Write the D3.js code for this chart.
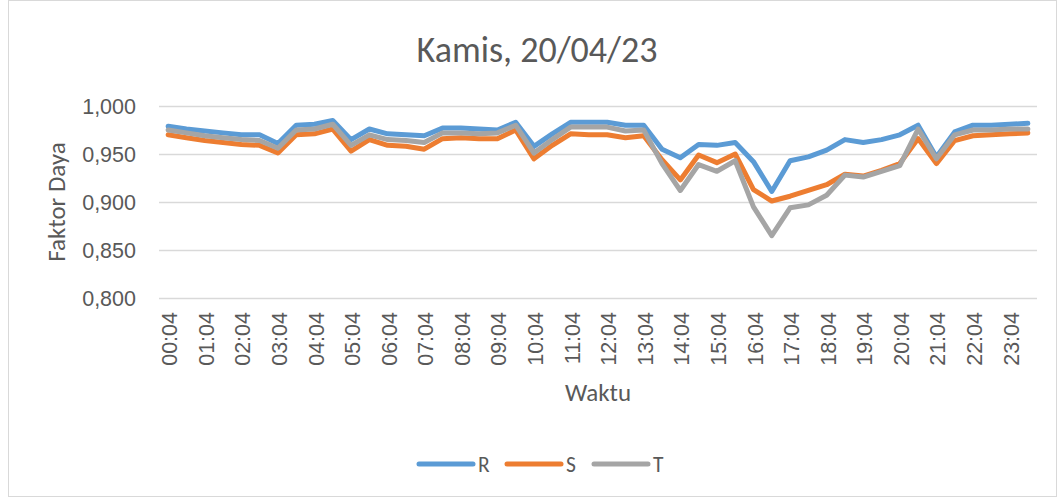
<!DOCTYPE html>
<html>
<head>
<meta charset="utf-8">
<script src="https://cdn.jsdelivr.net/npm/d3@7"></script>
<style>
  html, body { margin: 0; padding: 0; background: #fff; }
  svg { display: block; font-family: Carlito, Calibri, "Open Sans", sans-serif; }
</style>
</head>
<body>
<svg id="chart" width="1059" height="498"></svg>
<script>
// Half-hourly readings of power factor per phase
const times = [
  "00:04","00:34","01:04","01:34","02:04","02:34","03:04","03:34",
  "04:04","04:34","05:04","05:34","06:04","06:34","07:04","07:34",
  "08:04","08:34","09:04","09:34","10:04","10:34","11:04","11:34",
  "12:04","12:34","13:04","13:34","14:04","14:34","15:04","15:34",
  "16:04","16:34","17:04","17:34","18:04","18:34","19:04","19:34",
  "20:04","20:34","21:04","21:34","22:04","22:34","23:04","23:34"
];

const phaseR = [
  0.979, 0.976, 0.974, 0.972, 0.970, 0.970, 0.961, 0.980,
  0.981, 0.985, 0.965, 0.976, 0.971, 0.970, 0.969, 0.977,
  0.977, 0.976, 0.975, 0.983, 0.958, 0.971, 0.983, 0.983,
  0.983, 0.980, 0.980, 0.955, 0.946, 0.960, 0.959, 0.962,
  0.942, 0.911, 0.943, 0.947, 0.954, 0.965, 0.962, 0.965,
  0.970, 0.980, 0.947, 0.973, 0.980, 0.980, 0.981, 0.982
];

const phaseS = [
  0.970, 0.967, 0.964, 0.962, 0.960, 0.959, 0.951, 0.970,
  0.971, 0.976, 0.953, 0.965, 0.959, 0.958, 0.955, 0.966,
  0.967, 0.966, 0.966, 0.975, 0.945, 0.959, 0.971, 0.970,
  0.970, 0.967, 0.969, 0.944, 0.923, 0.949, 0.941, 0.950,
  0.913, 0.901, 0.906, 0.912, 0.918, 0.929, 0.927, 0.933,
  0.940, 0.966, 0.940, 0.964, 0.969, 0.970, 0.971, 0.972
];

const phaseT = [
  0.975, 0.972, 0.969, 0.967, 0.965, 0.964, 0.956, 0.975,
  0.976, 0.981, 0.959, 0.970, 0.965, 0.964, 0.962, 0.972,
  0.972, 0.971, 0.972, 0.980, 0.951, 0.965, 0.978, 0.978,
  0.978, 0.974, 0.975, 0.940, 0.912, 0.939, 0.932, 0.943,
  0.895, 0.865, 0.894, 0.897, 0.907, 0.928, 0.926, 0.932,
  0.938, 0.976, 0.945, 0.970, 0.975, 0.975, 0.976, 0.976
];

const yTicks = [0.800, 0.850, 0.900, 0.950, 1.000];
const seriesNames = ["R", "S", "T"];
const seriesColors = ["#5B9BD5", "#ED7D31", "#A5A5A5"];

const series = [
  { name: seriesNames[0], color: seriesColors[0], values: phaseR },
  { name: seriesNames[1], color: seriesColors[1], values: phaseS },
  { name: seriesNames[2], color: seriesColors[2], values: phaseT }
];

const svg = d3.select("#chart");
const textColor = "#595959";

// outer chart frame
svg.append("rect")
  .attr("x", 8.5).attr("y", 0.5)
  .attr("width", 1048).attr("height", 496)
  .attr("fill", "#fff").attr("stroke", "#d9d9d9").attr("stroke-width", 1);

const plot = { left: 159, right: 1037, top: 106, bottom: 298 };

const x = d3.scalePoint()
  .domain(times)
  .range([plot.left, plot.right])
  .padding(0.5);

const y = d3.scaleLinear()
  .domain([0.8, 1.0])
  .range([plot.bottom, plot.top]);

// horizontal gridlines
svg.append("g")
  .selectAll("line")
  .data(yTicks)
  .join("line")
  .attr("x1", plot.left).attr("x2", plot.right)
  .attr("y1", d => Math.round(y(d)) + 0.5)
  .attr("y2", d => Math.round(y(d)) + 0.5)
  .attr("stroke", "#d9d9d9").attr("stroke-width", 1.3);

// y axis labels
const fmt = d => d3.format(".3f")(d).replace(".", ",");
const yAxis = d3.axisLeft(y).tickValues(yTicks).tickFormat(fmt).tickSize(0).tickPadding(0);
const gy = svg.append("g")
  .attr("transform", `translate(${plot.left - 23},0)`)
  .call(yAxis);
gy.select(".domain").remove();
gy.selectAll("text")
  .attr("fill", textColor)
  .style("font-size", "21.5px")
  .attr("dy", "0.35em");

// x axis labels (every other category, rotated)
const xAxis = d3.axisBottom(x)
  .tickValues(times.filter((d, i) => i % 2 === 0))
  .tickSize(0).tickPadding(0);
const gx = svg.append("g")
  .attr("transform", `translate(0,${plot.bottom})`)
  .call(xAxis);
gx.select(".domain").remove();
gx.selectAll("text")
  .attr("fill", textColor)
  .style("font-size", "21.5px")
  .attr("text-anchor", "end")
  .attr("transform", "rotate(-90)")
  .attr("x", -14)
  .attr("y", 1)
  .attr("dy", "0.35em");

// series lines
const line = d3.line()
  .x((d, i) => x(times[i]))
  .y(d => y(d))
  .curve(d3.curveLinear);

svg.append("g")
  .selectAll("path")
  .data(series)
  .join("path")
  .attr("d", d => line(d.values))
  .attr("fill", "none")
  .attr("stroke", d => d.color)
  .attr("stroke-width", 5)
  .attr("stroke-linejoin", "round")
  .attr("stroke-linecap", "round");

// title
svg.append("text")
  .attr("x", 537).attr("y", 62)
  .attr("text-anchor", "middle")
  .attr("fill", textColor)
  .style("font-size", "36px")
  .text("Kamis, 20/04/23");

// axis titles
svg.append("text")
  .attr("transform", `translate(65,${(plot.top + plot.bottom) / 2}) rotate(-90)`)
  .attr("text-anchor", "middle")
  .attr("fill", textColor)
  .style("font-size", "25px")
  .text("Faktor Daya");

svg.append("text")
  .attr("x", (plot.left + plot.right) / 2).attr("y", 401)
  .attr("text-anchor", "middle")
  .attr("fill", textColor)
  .style("font-size", "25px")
  .text("Waktu");

// legend
const legendX = [419, 507, 594];
const legend = svg.append("g")
  .selectAll("g")
  .data(series)
  .join("g")
  .attr("transform", (d, i) => `translate(${legendX[i]},464)`);
legend.append("line")
  .attr("x1", 0).attr("x2", 54)
  .attr("y1", 0).attr("y2", 0)
  .attr("stroke", d => d.color)
  .attr("stroke-width", 5)
  .attr("stroke-linecap", "round");
legend.append("text")
  .attr("x", 59).attr("y", 0)
  .attr("dy", "0.35em")
  .attr("fill", textColor)
  .style("font-size", "21.5px")
  .text(d => d.name);
</script>
</body>
</html>
